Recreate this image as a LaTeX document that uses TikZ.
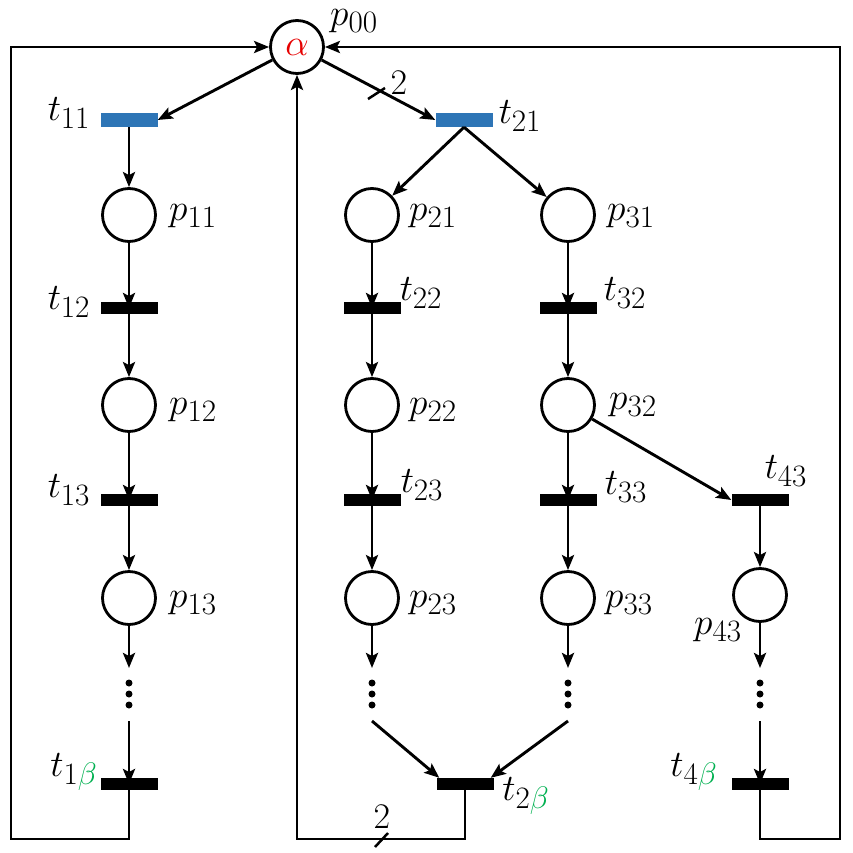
\documentclass[tikz,border=0pt]{standalone}
\usepackage{fix-cm}
\usetikzlibrary{arrows.meta}
\definecolor{tblue}{RGB}{46,117,182}
\definecolor{bgreen}{RGB}{0,176,80}
\definecolor{ared}{RGB}{230,0,0}
\begin{document}
\begin{tikzpicture}[x=1pt,y=-1pt,
 place/.style={circle,draw,line width=2.8pt,minimum size=53pt,inner sep=0pt},
 trans/.style={rectangle,fill=black,minimum width=57pt,minimum height=12pt,inner sep=0pt},
 btrans/.style={trans,fill=tblue,minimum height=14pt},
 arc/.style={line width=2.9pt,-{Stealth[length=15pt,width=12pt,inset=3pt]}},
 plain/.style={line width=2.5pt},
 lbl/.style={font=\fontsize{24.88}{28}\selectfont,inner sep=0pt,scale=1.5},
 wlbl/.style={font=\fontsize{24.88}{28}\selectfont,inner sep=0pt,scale=1.45},
 dotn/.style={circle,fill=black,minimum size=7pt,inner sep=0pt}
]
\useasboundingbox (0,0) rectangle (853,853);
% places
\node[place] (alpha) at (297,47) {};
\node[lbl] (la) at (alpha.center) {$\color{ared}\alpha$};
\node[place] (p11) at (129,215) {};
\node[place] (p12) at (129,405) {};
\node[place] (p13) at (129,598) {};
\node[place] (p21) at (372,215) {};
\node[place] (p22) at (372,405) {};
\node[place] (p23) at (372,598) {};
\node[place] (p31) at (568,215) {};
\node[place] (p32) at (568,405) {};
\node[place] (p33) at (568,598) {};
\node[place] (p43) at (760,595) {};
% transitions
\node[btrans] (t11) at (129,120) {};
\node[btrans] (t21) at (464,120) {};
\node[trans] (t12) at (129,308) {};
\node[trans] (t13) at (129,500) {};
\node[trans] (t1b) at (129,784) {};
\node[trans] (t22) at (372,308) {};
\node[trans] (t23) at (372,500) {};
\node[trans] (t32) at (568,308) {};
\node[trans] (t33) at (568,500) {};
\node[trans] (t2b) at (465,784) {};
\node[trans] (t43) at (760,500) {};
\node[trans] (t4b) at (760,784) {};
% dots
\foreach \n/\x in {a/129,b/372,c/568,d/760}{
  \node[dotn] (d\n1) at (\x,683) {};
  \node[dotn] (d\n2) at (\x,694) {};
  \node[dotn] (d\n3) at (\x,705) {};
  \coordinate (e\n) at (\x,668);
  \coordinate (s\n) at (\x,721);
}
% labels
\node[lbl] (lp00) at (354,21) {$p_{00}$};
\node[lbl] (lt11) at (69,113) {$t_{11}$};
\node[lbl] (lt21) at (520,116) {$t_{21}$};
\node[lbl] (lp11) at (193,216) {$p_{11}$};
\node[lbl] (lt12) at (69,302) {$t_{12}$};
\node[lbl] (lp12) at (193,410) {$p_{12}$};
\node[lbl] (lt13) at (69,490) {$t_{13}$};
\node[lbl] (lp13) at (193,603) {$p_{13}$};
\node[lbl] (lt1b) at (74,772) {$t_{1\color{bgreen}\beta}$};
\node[lbl] (lp21) at (433,216) {$p_{21}$};
\node[lbl] (lt22) at (421,293) {$t_{22}$};
\node[lbl] (lp22) at (433,410) {$p_{22}$};
\node[lbl] (lt23) at (422,485) {$t_{23}$};
\node[lbl] (lp23) at (433,603) {$p_{23}$};
\node[lbl] (lp31) at (631,216) {$p_{31}$};
\node[lbl] (lt32) at (625,293) {$t_{32}$};
\node[lbl] (lp32) at (633,405) {$p_{32}$};
\node[lbl] (lt33) at (626,487) {$t_{33}$};
\node[lbl] (lp33) at (629,603) {$p_{33}$};
\node[lbl] (lt43) at (786,471) {$t_{43}$};
\node[lbl] (lp43) at (718,630) {$p_{43}$};
\node[lbl] (lt2b) at (526,796) {$t_{2\color{bgreen}\beta}$};
\node[lbl] (lt4b) at (694,772) {$t_{4\color{bgreen}\beta}$};
\node[wlbl] (w1) at (399,83) {$2$};
\node[wlbl] (w2) at (382,817) {$2$};
% arcs from alpha
\draw[arc] (alpha) -- (t11.east);
\draw[arc] (alpha) -- (t21.west);
\draw[plain] (368,99) -- (385,88);
\draw[arc] (t21.south) -- (p21);
\draw[arc] (t21.south) -- (p31);
% column 1
\draw[arc] (t11.south) -- (p11);
\draw[arc] (p11) -- (t12.center);
\draw[arc] (t12) -- (p12);
\draw[arc] (p12) -- (t13.center);
\draw[arc] (t13) -- (p13);
\draw[arc] (p13) -- (ea);
\draw[arc] (sa) -- (t1b.center);
% column 2
\draw[arc] (p21) -- (t22.center);
\draw[arc] (t22) -- (p22);
\draw[arc] (p22) -- (t23.center);
\draw[arc] (t23) -- (p23);
\draw[arc] (p23) -- (eb);
\draw[arc] (sb) -- ([xshift=3pt]t2b.north west);
% column 3
\draw[arc] (p31) -- (t32.center);
\draw[arc] (t32) -- (p32);
\draw[arc] (p32) -- (t33.center);
\draw[arc] (t33) -- (p33);
\draw[arc] (p33) -- (ec);
\draw[arc] (sc) -- ([xshift=-3pt]t2b.north east);
% column 4
\draw[arc] (p32) -- (t43.west);
\draw[arc] (t43) -- (p43);
\draw[arc] (p43) -- (ed);
\draw[arc] (sd) -- (t4b.center);
% feedback frames
\coordinate (bl) at (11,839);
\coordinate (tl) at (11,47);
\coordinate (br) at (840,839);
\coordinate (tr) at (840,47);
\coordinate (mb) at (297,839);
\draw[arc] (t1b.center) -- (t1b.center |- bl) -- (bl) -- (tl) -- (alpha.west);
\draw[arc] (t4b.center) -- (t4b.center |- br) -- (br) -- (tr) -- (alpha.east);
\draw[arc] (t2b.center) -- (t2b.center |- mb) -- (mb) -- (alpha.south);
\draw[plain] (375,847) -- (388,833);
\end{tikzpicture}
\end{document}
